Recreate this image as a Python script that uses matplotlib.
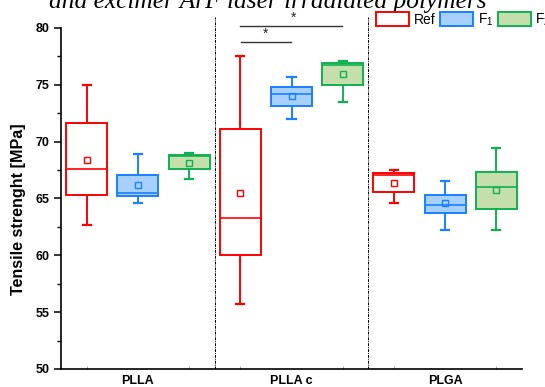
import matplotlib
matplotlib.use("Agg")
import matplotlib.pyplot as plt
from matplotlib.patches import Patch
from matplotlib.ticker import MultipleLocator

# Sample groups and treatments
groups = ["PLLA", "PLLA c", "PLGA"]
treatments = ["Ref", "F$_1$", "F$_2$"]

# Box statistics per box (order: PLLA Ref, F1, F2, PLLA c Ref, F1, F2, PLGA Ref, F1, F2)
whislo = [62.7, 64.6, 66.7, 55.7, 72.0, 73.5, 64.6, 62.2, 62.2]
q1     = [65.3, 65.2, 67.6, 60.0, 73.1, 75.0, 65.6, 63.7, 64.1]
med    = [67.6, 65.5, 68.7, 63.3, 74.2, 76.7, 67.1, 64.4, 66.0]
q3     = [71.6, 67.1, 68.8, 71.1, 74.8, 76.9, 67.2, 65.3, 67.3]
whishi = [75.0, 68.9, 69.0, 77.5, 75.7, 77.1, 67.5, 66.5, 69.4]
mean   = [68.4, 66.2, 68.1, 65.5, 74.0, 75.9, 66.4, 64.6, 65.7]

edge_colors = ["#FF0000", "#1A80FF", "#10B050"]
face_colors = ["#FFFFFF", "#A8D0FF", "#C4DEAC"]

plt.rcParams["font.family"] = ["Liberation Sans", "DejaVu Sans"]
plt.rcParams["mathtext.fontset"] = "custom"
plt.rcParams["mathtext.rm"] = "Liberation Sans"

fig = plt.figure(figsize=(5.45, 3.87), dpi=100)
ax = fig.add_axes([61 / 545, 18 / 387, (522 - 61) / 545, (369 - 16.5) / 387])

positions = list(range(1, 10))
for i, pos in enumerate(positions):
    k = i % 3
    stats = [dict(whislo=whislo[i], q1=q1[i], med=med[i], q3=q3[i],
                  whishi=whishi[i], mean=mean[i], fliers=[])]
    ec = edge_colors[k]
    ax.bxp(stats, positions=[pos], widths=0.8, patch_artist=True,
           showmeans=True, showfliers=False,
           boxprops=dict(facecolor=face_colors[k], edgecolor=ec, linewidth=1.4),
           medianprops=dict(color=ec, linewidth=1.2),
           whiskerprops=dict(color=ec, linewidth=1.4),
           capprops=dict(color=ec, linewidth=1.6),
           meanprops=dict(marker="s", markersize=4.5, markerfacecolor="none",
                          markeredgecolor=ec, markeredgewidth=1.0),
           capwidths=0.16, manage_ticks=False)

ax.set_xlim(0.5, 9.5)
ax.set_ylim(50, 81)

# Group separators
for xd in (3.5, 6.5):
    ax.plot([xd, xd], [50, 81], color="black", linestyle=(0, (3, 1, 1, 1)),
            linewidth=0.7)

# Significance bars (PLLA c: Ref vs F2, Ref vs F1)
ax.plot([3.99, 5.99], [80.2, 80.2], color="#333333", linewidth=1.0, clip_on=False)
ax.text(5.04, 80.3, "*", ha="center", va="bottom", fontsize=10, color="#222222")
ax.plot([4.02, 4.99], [78.8, 78.8], color="#333333", linewidth=1.0, clip_on=False)
ax.text(4.5, 78.85, "*", ha="center", va="bottom", fontsize=10, color="#222222")

# Axes styling
for side in ("top", "right"):
    ax.spines[side].set_visible(False)
ax.spines["left"].set_bounds(50, 80)
ax.spines["left"].set_linewidth(1.2)
ax.spines["bottom"].set_linewidth(1.2)

ax.set_yticks(range(50, 81, 5))
ax.yaxis.set_minor_locator(MultipleLocator(2.5))
ax.tick_params(axis="y", which="major", direction="out", length=5, width=1.1,
               labelsize=9)
ax.tick_params(axis="y", which="minor", direction="out", length=3, width=1.0)
for lbl in ax.get_yticklabels():
    lbl.set_fontweight("bold")

ax.set_xticks([2, 5, 8])
ax.set_xticklabels(groups, fontsize=9, fontweight="bold")
ax.set_xticks(positions, minor=True)
ax.tick_params(axis="x", which="major", length=0, pad=4)
ax.tick_params(axis="x", which="minor", direction="in", length=2, width=0.6,
               color="#999999")

ax.set_ylabel("Tensile strenght [MPa]", fontsize=11.6, fontweight="bold")
ax.yaxis.set_label_coords(-0.075, 0.452)

# Legend
handles = [Patch(facecolor=face_colors[k], edgecolor=edge_colors[k], linewidth=1.4)
           for k in range(3)]
fig.legend(handles, treatments, loc="upper left",
           bbox_to_anchor=(376 / 545, 1 - 11.5 / 387), ncol=3, frameon=False,
           fontsize=10, handlelength=2.4, handleheight=1.15, handletextpad=0.3,
           columnspacing=0.35, borderpad=0, borderaxespad=0)

# Title line
fig.text(268 / 545, 1 - 8 / 387, "and excimer ArF laser irradiated polymers",
         ha="center", va="baseline", fontsize=18.3, style="italic",
         family=["Liberation Serif", "DejaVu Serif"])

fig.savefig("out.png", dpi=100)
